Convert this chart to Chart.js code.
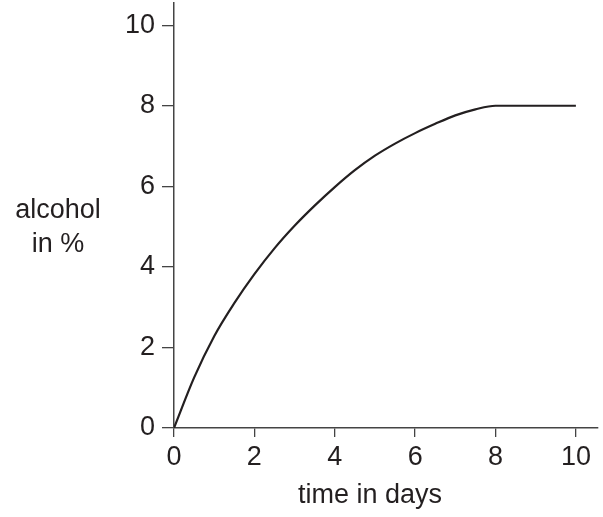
<!DOCTYPE html>
<html>
<head>
<meta charset="utf-8">
<script src="https://cdn.jsdelivr.net/npm/chart.js@4.4.1/dist/chart.umd.min.js"></script>
<style>
  html, body { margin: 0; padding: 0; background: #fff; }
  #wrap { width: 603px; height: 517px; position: relative; }
</style>
</head>
<body>
<div id="wrap"><canvas id="c"></canvas></div>
<script>
// time in days vs alcohol in %
const days = [0, 0.5, 1, 1.5, 2, 2.5, 3, 3.5, 4, 4.5, 5, 5.5, 6, 6.5, 7, 7.5, 8, 9, 10];
const alcohol = [0, 1.25, 2.28, 3.1, 3.82, 4.46, 5.02, 5.52, 5.98, 6.4, 6.76, 7.06, 7.32, 7.55, 7.76, 7.91, 8, 8, 8];
const tickValues = [0, 2, 4, 6, 8, 10];
const xTitle = 'time in days';
const yTitle = ['alcohol', 'in %'];

const ink = '#231f20';
const font = '"Liberation Sans", Arial, Helvetica, sans-serif';

const titles = {
  id: 'titles',
  afterDraw(chart) {
    const ctx = chart.ctx;
    ctx.save();
    ctx.fillStyle = ink;
    ctx.font = '27px ' + font;
    ctx.textAlign = 'center';
    ctx.textBaseline = 'alphabetic';
    ctx.fillText(xTitle, 370, 503);
    ctx.fillText(yTitle[0], 58, 218);
    ctx.fillText(yTitle[1], 58, 252);
    ctx.restore();
  }
};

function evenTicks(axis) {
  axis.ticks = tickValues.map(v => ({ value: v }));
}

function noPad(s) {
  s.paddingTop = 0; s.paddingBottom = 0;
  s.paddingLeft = 0; s.paddingRight = 0;
}

new Chart(document.getElementById('c'), {
  type: 'line',
  data: {
    datasets: [{
      data: days.map((d, i) => ({ x: d, y: alcohol[i] })),
      borderColor: ink,
      borderWidth: 2.2,
      pointRadius: 0,
      fill: false,
      cubicInterpolationMode: 'monotone'
    }]
  },
  options: {
    responsive: true,
    maintainAspectRatio: false,
    animation: false,
    layout: { padding: { top: 3, right: 5, left: 0, bottom: 0 } },
    plugins: { legend: { display: false }, tooltip: { enabled: false } },
    scales: {
      x: {
        type: 'linear',
        min: 0,
        max: 10.55,
        afterBuildTicks: evenTicks,
        afterFit(s) { s.height = 89; noPad(s); },
        grid: { drawOnChartArea: false, drawTicks: true, tickLength: 9, color: '#444', lineWidth: 1.3 },
        border: { display: true, color: '#444', width: 1.5 },
        ticks: { color: ink, font: { family: font, size: 27 }, padding: 4, maxRotation: 0 }
      },
      y: {
        type: 'linear',
        min: 0,
        max: 10.55,
        afterBuildTicks: evenTicks,
        afterFit(s) { s.width = 174; noPad(s); },
        grid: { drawOnChartArea: false, drawTicks: true, tickLength: 12, color: '#444', lineWidth: 1.3 },
        border: { display: true, color: '#444', width: 1.5 },
        ticks: { color: ink, font: { family: font, size: 27 }, padding: 7 }
      }
    }
  },
  plugins: [titles]
});
</script>
</body>
</html>
